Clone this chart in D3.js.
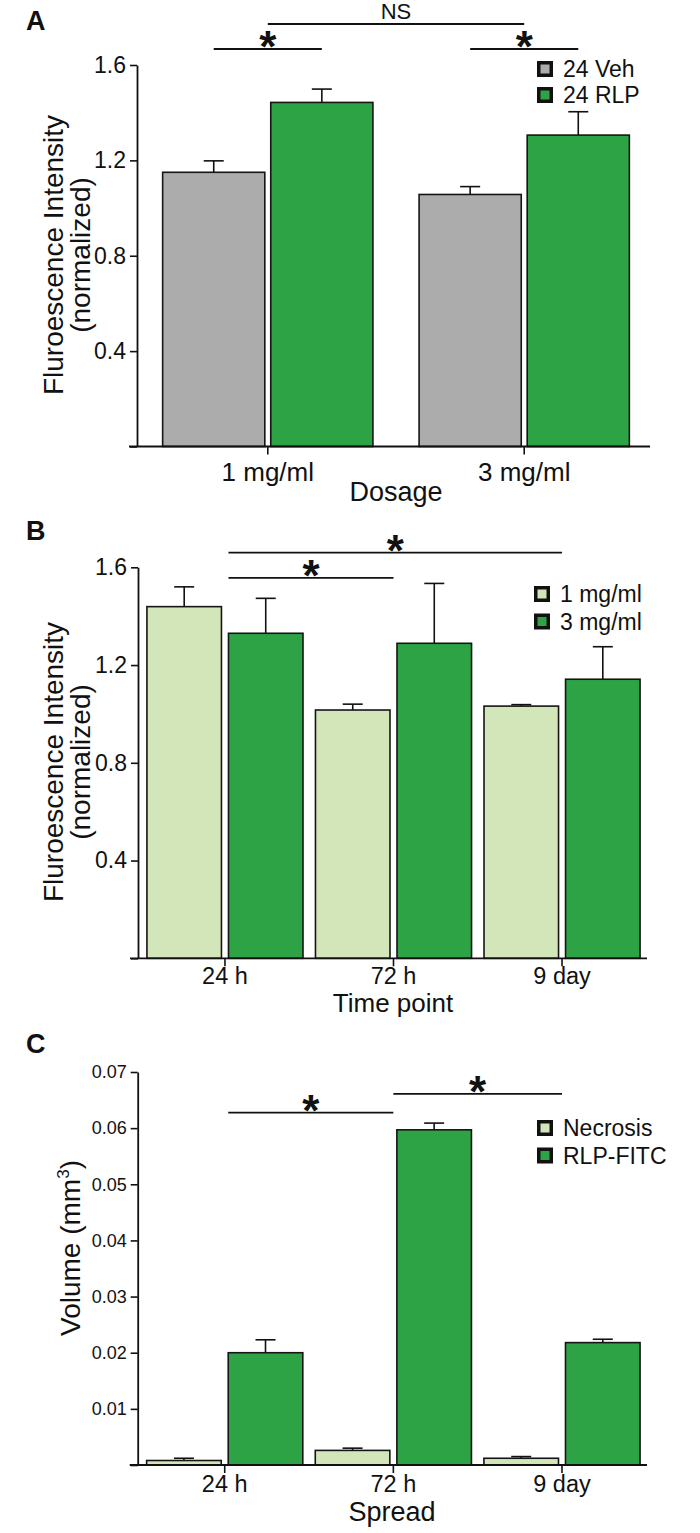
<!DOCTYPE html>
<html>
<head>
<meta charset="utf-8">
<script src="https://cdn.jsdelivr.net/npm/d3@7"></script>
<style>
body { margin: 0; background: #fff; }
text { font-family: "Liberation Sans", Arial, sans-serif; fill: #111; }
</style>
</head>
<body>
<div id="chart"></div>
<script>
// panel A : dosage
var dosageCats = ["1 mg/ml", "3 mg/ml"];
var dosageSeries = ["24 Veh", "24 RLP"];
var vehMean = [1.15, 1.057];
var vehErr = [0.048, 0.033];
var rlpMean = [1.443, 1.306];
var rlpErr = [0.056, 0.098];
var ticksA = [0.4, 0.8, 1.2, 1.6];

// panel B : time point
var timeCats = ["24 h", "72 h", "9 day"];
var doseSeries = ["1 mg/ml", "3 mg/ml"];
var lowMean = [1.439, 1.016, 1.032];
var lowErr = [0.081, 0.024, 0.006];
var highMean = [1.33, 1.289, 1.142];
var highErr = [0.143, 0.245, 0.133];
var ticksB = [0.4, 0.8, 1.2, 1.6];

// panel C : spread
var spreadCats = ["24 h", "72 h", "9 day"];
var spreadSeries = ["Necrosis", "RLP-FITC"];
var necMean = [0.0008, 0.0026, 0.0012];
var necErr = [0.0004, 0.0004, 0.0003];
var fitcMean = [0.0200, 0.0597, 0.0218];
var fitcErr = [0.0023, 0.0012, 0.0006];
var ticksC = [0.01, 0.02, 0.03, 0.04, 0.05, 0.06, 0.07];

var grey = "#acacac", green = "#2ea345", pale = "#d3e6ba";

var svg = d3.select("#chart").append("svg")
    .attr("width", 700)
    .attr("height", 1533);

function panel(o) {
  var g = svg.append("g");
  var x0 = d3.scaleBand().domain(o.cats).range(o.xr).paddingInner(o.pi).paddingOuter(o.po);
  var x1 = d3.scaleBand().domain(o.series).range([0, x0.bandwidth()]).paddingInner(o.spi);
  var y = d3.scaleLinear().domain(o.yd).range(o.yr);

  var rows = [];
  o.cats.forEach(function(c, i) {
    o.series.forEach(function(s, j) {
      rows.push({cat: c, ser: s, v: o.means[j][i], e: o.errs[j][i], color: o.colors[j]});
    });
  });

  // error bars (upper only)
  var eb = g.selectAll(".eb").data(rows).enter().append("g")
    .attr("transform", function(d) { return "translate(" + (x0(d.cat) + x1(d.ser) + x1.bandwidth() / 2) + ",0)"; });
  eb.append("line")
    .attr("y1", function(d) { return y(d.v); })
    .attr("y2", function(d) { return y(d.v + d.e); })
    .attr("stroke", "#111").attr("stroke-width", 1.6);
  eb.append("line")
    .attr("x1", -10).attr("x2", 10)
    .attr("y1", function(d) { return y(d.v + d.e); })
    .attr("y2", function(d) { return y(d.v + d.e); })
    .attr("stroke", "#111").attr("stroke-width", 1.6);

  // bars
  g.selectAll(".bar").data(rows).enter().append("rect")
    .attr("x", function(d) { return x0(d.cat) + x1(d.ser); })
    .attr("y", function(d) { return y(d.v); })
    .attr("width", x1.bandwidth())
    .attr("height", function(d) { return y(0) - y(d.v); })
    .attr("fill", function(d) { return d.color; })
    .attr("stroke", "#151515").attr("stroke-width", 1.6);

  // y axis
  var ya = g.append("g")
    .attr("transform", "translate(" + o.xr[0] + ",0)")
    .call(d3.axisLeft(y).tickValues([0].concat(o.ticks)).tickSize(7).tickSizeOuter(0)
      .tickFormat(function(d) { return d === 0 ? "" : d3.format(o.fmt)(d); }));
  ya.select(".domain").attr("stroke", "#111").attr("stroke-width", 1.8);
  ya.selectAll(".tick line").attr("stroke", "#111").attr("stroke-width", 1.6);
  ya.selectAll(".tick text").attr("font-size", o.tickFont).attr("font-family", null).attr("fill", "#111").attr("x", -11);

  // baseline + x axis
  g.append("line")
    .attr("x1", o.xr[0] - 8).attr("x2", o.xEnd)
    .attr("y1", y(0)).attr("y2", y(0))
    .attr("stroke", "#111").attr("stroke-width", 1.8);
  var xa = g.append("g")
    .attr("transform", "translate(0," + y(0) + ")")
    .call(d3.axisBottom(x0).tickSize(8).tickSizeOuter(0));
  xa.select(".domain").remove();
  xa.selectAll(".tick line").attr("stroke", "#111").attr("stroke-width", 1.6);
  xa.selectAll(".tick text").attr("font-size", o.catFont).attr("font-family", null).attr("fill", "#111")
    .attr("y", o.catOff).attr("dy", 0);

  g.append("text")
    .attr("x", o.xTitleX).attr("y", o.xTitleY)
    .attr("text-anchor", "middle").attr("font-size", o.xTitleFont)
    .text(o.xTitle);

  // legend
  o.series.forEach(function(s, j) {
    var cy = o.legY + j * o.legGap;
    g.append("rect").attr("x", o.legX).attr("y", cy - 8).attr("width", 16).attr("height", 16).attr("fill", "#111");
    g.append("rect").attr("x", o.legX + 3.5).attr("y", cy - 4.5).attr("width", 9).attr("height", 9).attr("fill", o.colors[j]);
    g.append("text").attr("x", o.legX + 26).attr("y", cy).attr("dy", "0.36em")
      .attr("font-size", 23).text(s);
  });

  // panel letter
  g.append("text").attr("x", 26).attr("y", o.letterY)
    .attr("font-size", 27).attr("font-weight", "bold").text(o.letter);

  return {g: g, x0: x0, x1: x1, y: y};
}

function sig(p, xa, xb, yl, label) {
  p.g.append("line").attr("x1", xa).attr("x2", xb).attr("y1", yl).attr("y2", yl)
    .attr("stroke", "#111").attr("stroke-width", 1.8);
  if (label === "*") {
    p.g.append("text").attr("x", (xa + xb) / 2).attr("y", yl - 11 + 0.55 * 44)
      .attr("text-anchor", "middle").attr("font-size", 44).attr("font-weight", "bold").text("*");
  } else {
    p.g.append("text").attr("x", (xa + xb) / 2).attr("y", yl - 5)
      .attr("text-anchor", "middle").attr("font-size", 22).text(label);
  }
}

function yTitle(p, lines, cy, x0) {
  lines.forEach(function(t, i) {
    p.g.append("text")
      .attr("transform", "translate(" + (x0 + i * 27) + "," + cy + ") rotate(-90)")
      .attr("text-anchor", "middle").attr("font-size", 28).text(t);
  });
}

// ---- A
var A = panel({
  cats: dosageCats, series: dosageSeries,
  means: [vehMean, rlpMean], errs: [vehErr, rlpErr], colors: [grey, green],
  xr: [137, 655], pi: 0.18, po: 0.1, spi: 0.055, xEnd: 650,
  yd: [0, 1.6], yr: [446.5, 65], ticks: ticksA, fmt: ".1f", tickFont: 23,
  catFont: 26, catOff: 34, xTitle: "Dosage", xTitleFont: 27, xTitleX: 396, xTitleY: 501,
  legX: 537, legY: 69, legGap: 26, letter: "A", letterY: 30
});
yTitle(A, ["Fluroescence Intensity", "(normalized)"], 255, 63);
(function() {
  var c = function(cat, s) { return A.x0(cat) + A.x1(s) + A.x1.bandwidth() / 2; };
  var t = function(cat) { return A.x0(cat) + A.x0.bandwidth() / 2; };
  sig(A, t(dosageCats[0]), t(dosageCats[1]), A.y(1.772), "NS");
  sig(A, c(dosageCats[0], dosageSeries[0]), c(dosageCats[0], dosageSeries[1]), A.y(1.667), "*");
  sig(A, c(dosageCats[1], dosageSeries[0]), c(dosageCats[1], dosageSeries[1]), A.y(1.667), "*");
})();

// ---- B
var B = panel({
  cats: timeCats, series: doseSeries,
  means: [lowMean, highMean], errs: [lowErr, highErr], colors: [pale, green],
  xr: [138, 649], pi: 0.074, po: 0.053, spi: 0.086, xEnd: 647,
  yd: [0, 1.6], yr: [958.3, 567.3], ticks: ticksB, fmt: ".1f", tickFont: 23,
  catFont: 23.5, catOff: 26, xTitle: "Time point", xTitleFont: 26, xTitleX: 393, xTitleY: 1012,
  legX: 534, legY: 594, legGap: 27.5, letter: "B", letterY: 540
});
yTitle(B, ["Fluroescence Intensity", "(normalized)"], 762, 63);
(function() {
  var t = function(cat) { return B.x0(cat) + B.x0.bandwidth() / 2; };
  var left = B.x0(timeCats[0]) + B.x1(doseSeries[1]);
  sig(B, left, t(timeCats[2]), B.y(1.66), "*");
  sig(B, left, t(timeCats[1]), B.y(1.557), "*");
})();

// ---- C
var C = panel({
  cats: spreadCats, series: spreadSeries,
  means: [necMean, fitcMean], errs: [necErr, fitcErr], colors: [pale, green],
  xr: [137.7, 649], pi: 0.074, po: 0.053, spi: 0.086, xEnd: 647,
  yd: [0, 0.07], yr: [1465, 1072], ticks: ticksC, fmt: ".2f", tickFont: 18,
  catFont: 23.5, catOff: 27, xTitle: "Spread", xTitleFont: 27, xTitleX: 392, xTitleY: 1521,
  legX: 537, legY: 1128, legGap: 27.5, letter: "C", letterY: 1053
});
C.g.append("text")
  .attr("transform", "translate(80,1248) rotate(-90)")
  .attr("text-anchor", "middle").attr("font-size", 28)
  .text("Volume (mm")
  .call(function(t) {
    t.append("tspan").attr("font-size", 17).attr("dy", -11).text("3");
    t.append("tspan").attr("dy", 11).text(")");
  });
(function() {
  var t = function(cat) { return C.x0(cat) + C.x0.bandwidth() / 2; };
  var left = C.x0(spreadCats[0]) + C.x1(spreadSeries[1]);
  sig(C, left, t(spreadCats[1]), C.y(0.06275), "*");
  sig(C, t(spreadCats[1]), t(spreadCats[2]), C.y(0.0661), "*");
})();
</script>
</body>
</html>
